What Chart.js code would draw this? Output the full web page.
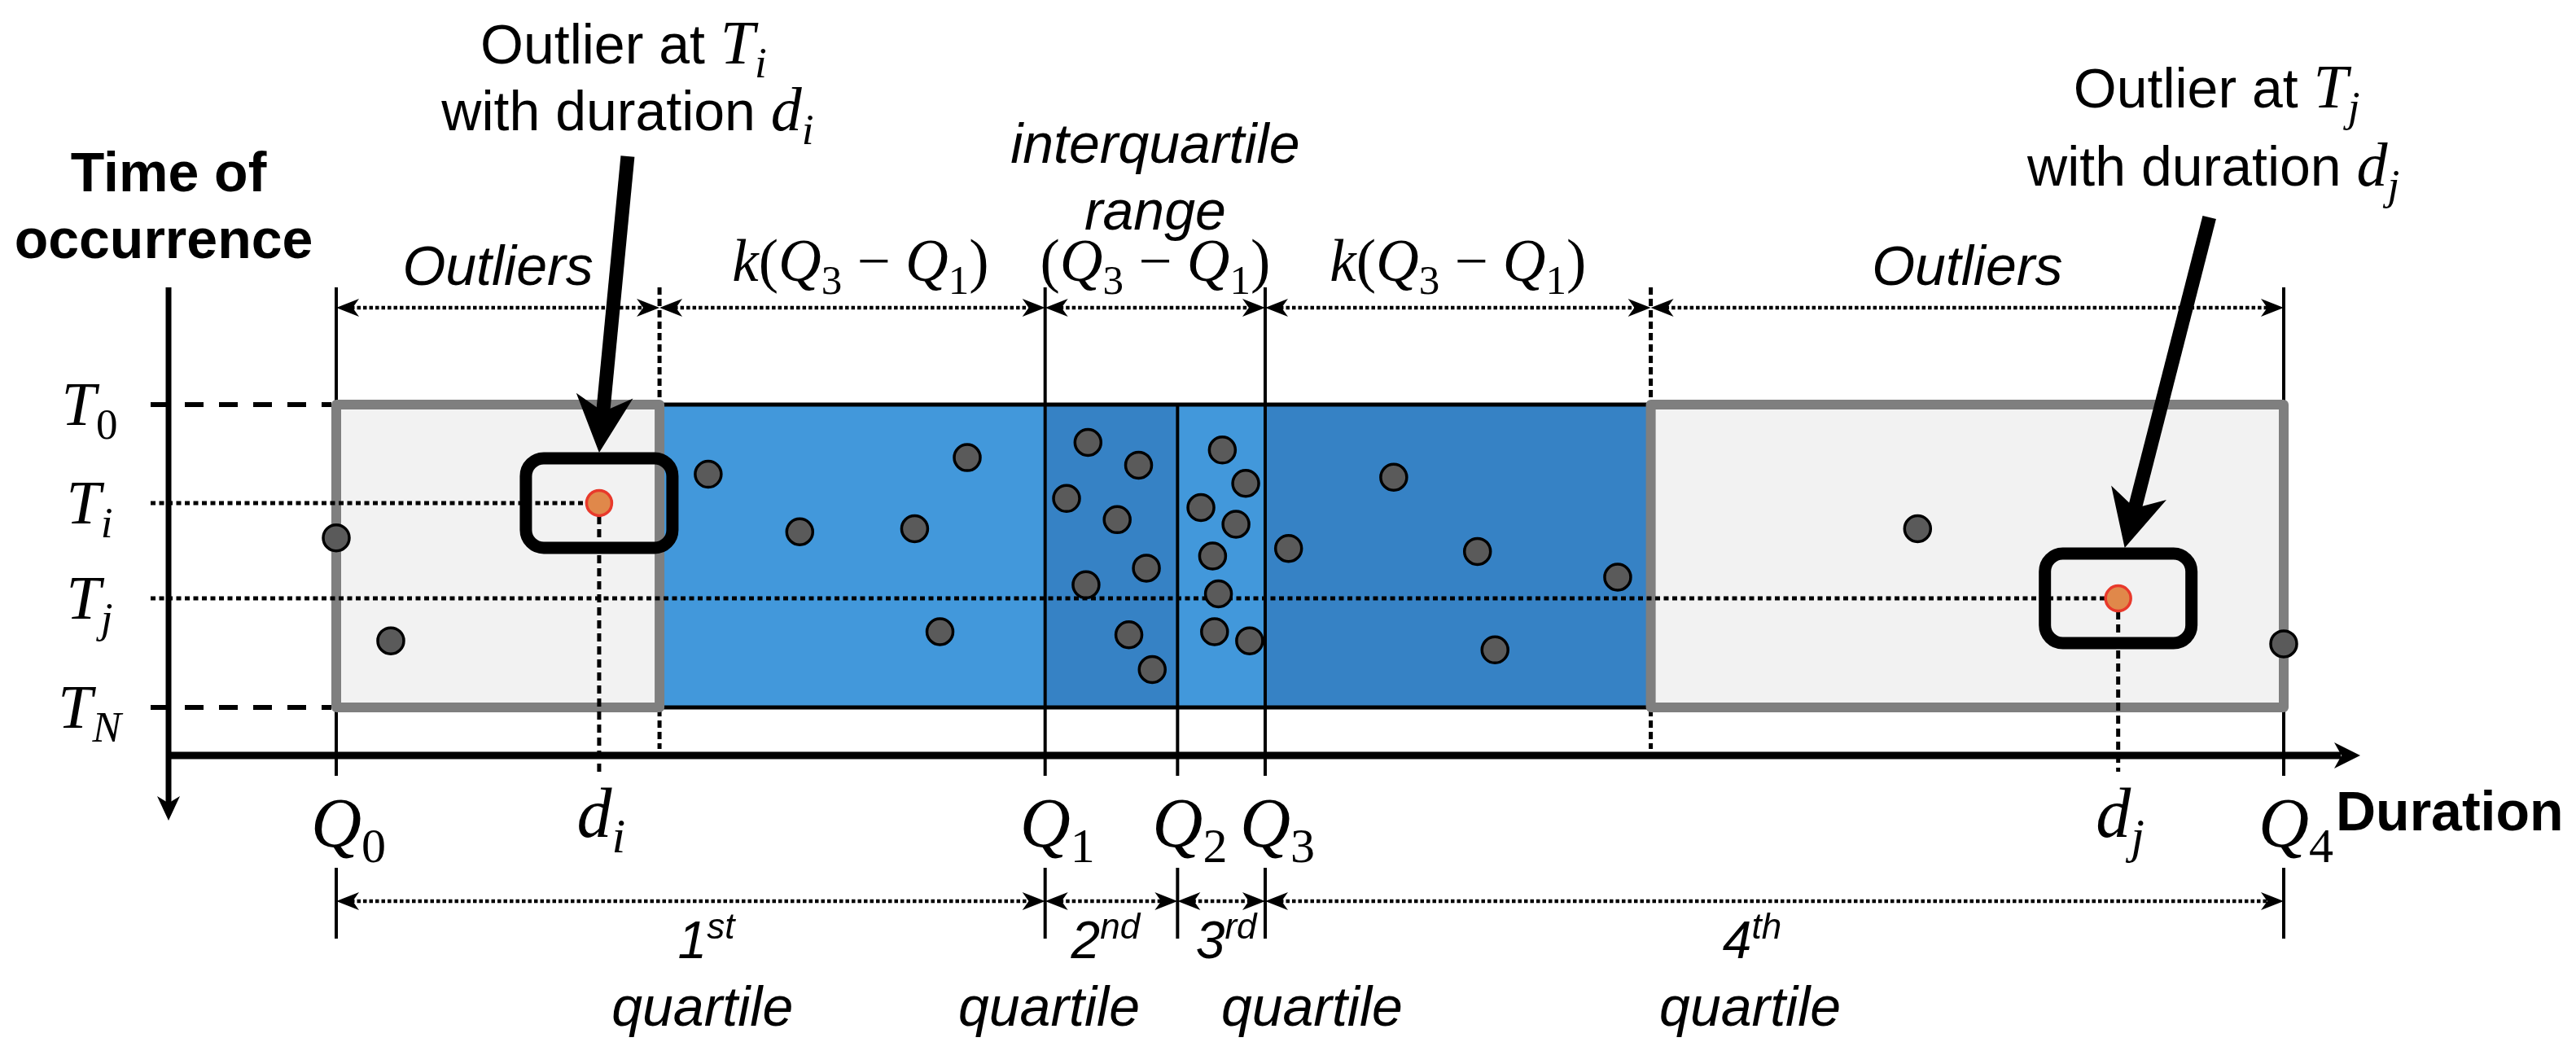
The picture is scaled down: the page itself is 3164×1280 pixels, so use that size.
<!DOCTYPE html>
<html>
<head>
<meta charset="utf-8">
<title>Outliers by quartile of duration</title>
<script src="https://cdn.jsdelivr.net/npm/chart.js@4.4.1/dist/chart.umd.min.js"></script>
<style>
    html, body { margin: 0; padding: 0; background: #ffffff; }
    canvas { display: block; }
</style>
</head>
<body>
<canvas id="chart" width="3164" height="1280"></canvas>
<script>
// duration where each quartile boundary falls (Q0 ... Q4)
const quartiles = [0, 36.4, 43.2, 47.7, 100];
const quartileSubs = ["0", "1", "2", "3", "4"];
// lower / upper fence: Q1 - k(Q3-Q1) and Q3 + k(Q3-Q1)
const fences = [16.6, 67.5];

// time of occurrence rows T0, Ti, Tj, TN
const timeTicks = [0, 32.5, 64, 100];
const timeSubs = ["0", "i", "j", "N"];

// ordinary events (duration, time of occurrence)
const eventDurations = [0, 2.8, 19.1, 23.8, 29.7, 32.4, 31.0, 38.6, 41.2, 37.5,
    40.1, 41.6, 38.5, 40.7, 41.9, 45.5, 46.7, 44.4, 46.2, 45.0,
    45.3, 45.1, 46.9, 48.9, 54.3, 58.6, 65.8, 59.5, 81.2, 100];
const eventTimes = [44, 78, 23, 42, 41, 17.5, 75, 12.5, 20, 31,
    38, 54, 59.5, 76, 87.5, 15, 26, 34, 39.5, 50,
    62.5, 75, 78, 47.5, 24, 48.5, 57, 81, 41, 79];

// the two outliers that are pointed out (i and j)
const outlierDurations = [13.5, 91.5];
const outlierTimes = [32.5, 64];
const outlierSubs = ["i", "j"];

const ordinals = [["1", "st"], ["2", "nd"], ["3", "rd"], ["4", "th"]];

// ---- look ----
const SANS = '"Liberation Sans", Arial, sans-serif';
const SERIF = '"Liberation Serif", "Times New Roman", serif';
const LIGHT_BLUE = "#4298db";
const DARK_BLUE = "#3682c5";
const BOX_FILL = "#f2f2f2";
const BOX_EDGE = "#7f7f7f";
const ordinalX = [19.0, 39.5, 45.7, 72.7];
const quartileWordX = [18.8, 36.6, 50.1, 72.6];

function line(ctx, x1, y1, x2, y2, width, dash, color) {
    ctx.save();
    ctx.beginPath();
    ctx.strokeStyle = color || "#000";
    ctx.lineWidth = width;
    ctx.setLineDash(dash || []);
    ctx.moveTo(x1, y1);
    ctx.lineTo(x2, y2);
    ctx.stroke();
    ctx.restore();
}

// stealth arrow head, ang = direction it points to
function head(ctx, tx, ty, ang, len, half) {
    const c = Math.cos(ang), s = Math.sin(ang);
    const pt = (a, b) => [tx - a * c - b * s, ty - a * s + b * c];
    const p1 = pt(len, half), p2 = pt(len * 0.72, 0), p3 = pt(len, -half);
    ctx.beginPath();
    ctx.moveTo(tx, ty);
    ctx.lineTo(p1[0], p1[1]);
    ctx.lineTo(p2[0], p2[1]);
    ctx.lineTo(p3[0], p3[1]);
    ctx.closePath();
    ctx.fillStyle = "#000";
    ctx.fill();
}

function dimension(ctx, x1, x2, y) {
    line(ctx, x1 + 18, y, x2 - 18, y, 4.5, [4.5, 3]);
    head(ctx, x1, y, Math.PI, 28, 11);
    head(ctx, x2, y, 0, 28, 11);
}

function bigArrow(ctx, x1, y1, x2, y2) {
    const ang = Math.atan2(y2 - y1, x2 - x1);
    const ex = x2 - Math.cos(ang) * 40, ey = y2 - Math.sin(ang) * 40;
    line(ctx, x1, y1, ex, ey, 17);
    head(ctx, x2, y2, ang, 70, 35);
}

// text made of runs with their own font and baseline shift
function drawRuns(ctx, runs, x, y, align) {
    let w = 0;
    runs.forEach(function (r) {
        ctx.font = r.f;
        r.w = ctx.measureText(r.t).width;
        w += r.w;
    });
    let cx = x;
    if (align === "center") cx = x - w / 2;
    else if (align === "right") cx = x - w;
    else if (align === "first") cx = x - runs[0].w / 2;
    ctx.textAlign = "left";
    ctx.textBaseline = "alphabetic";
    ctx.fillStyle = "#000";
    runs.forEach(function (r) {
        ctx.font = r.f;
        ctx.fillText(r.t, cx, y + (r.dy || 0));
        cx += r.w;
    });
}

function sym(base, sub, size) {
    const subFont = (isNaN(sub) ? "italic " : "") + Math.round(size * 0.7) + "px " + SERIF;
    return [
        { t: base, f: "italic " + size + "px " + SERIF },
        { t: sub, f: subFont, dy: size * 0.22 }
    ];
}

function iqrExpr(size, withK) {
    const up = size + "px " + SERIF;
    let r = [];
    if (withK) r.push({ t: "k", f: "italic " + size + "px " + SERIF });
    r.push({ t: "(", f: up });
    r = r.concat(sym("Q", "3", size));
    r.push({ t: " \u2212 ", f: up });
    r = r.concat(sym("Q", "1", size));
    r.push({ t: ")", f: up });
    return r;
}

const diagram = {
    id: "diagram",
    beforeDatasetsDraw(chart) {
        const { ctx, scales: { x, y } } = chart;
        const px = v => x.getPixelForValue(v);
        const py = v => y.getPixelForValue(v);
        const top = py(timeTicks[0]), bottom = py(timeTicks[3]);
        const axisX = px(quartiles[0]) - 206;
        const axisY = bottom + 59;
        const guideTop = top - 144;

        // fence guides (dotted)
        fences.forEach(function (f) {
            line(ctx, px(f), guideTop, px(f), axisY - 8, 5, [9, 5]);
        });

        // blue interquartile / whisker bands
        const edges = [fences[0], quartiles[1], quartiles[2], quartiles[3], fences[1]];
        for (let i = 0; i < 4; i++) {
            ctx.fillStyle = i % 2 === 0 ? LIGHT_BLUE : DARK_BLUE;
            ctx.fillRect(px(edges[i]), top, px(edges[i + 1]) - px(edges[i]), bottom - top);
        }

        // quartile lines
        quartiles.forEach(function (q, i) {
            const from = i === 2 ? top : guideTop;
            line(ctx, px(q), from, px(q), axisY + 25, 4);
        });
        line(ctx, px(fences[0]), top, px(fences[1]), top, 5);
        line(ctx, px(fences[0]), bottom, px(fences[1]), bottom, 5);

        // grey outlier zones
        ctx.save();
        ctx.lineWidth = 12;
        ctx.lineJoin = "round";
        ctx.strokeStyle = BOX_EDGE;
        ctx.fillStyle = BOX_FILL;
        [[quartiles[0], fences[0]], [fences[1], quartiles[4]]].forEach(function (z) {
            ctx.fillRect(px(z[0]), top, px(z[1]) - px(z[0]), bottom - top);
            ctx.strokeRect(px(z[0]), top, px(z[1]) - px(z[0]), bottom - top);
        });
        ctx.restore();

        // time rows
        line(ctx, axisX - 22, top, px(quartiles[0]) - 6, top, 6, [23, 19]);
        line(ctx, axisX - 22, bottom, px(quartiles[0]) - 6, bottom, 6, [23, 19]);
        outlierDurations.forEach(function (d, i) {
            const ox = px(d), oy = py(outlierTimes[i]);
            line(ctx, axisX - 22, oy, ox, oy, 5, [6, 4.5]);
            line(ctx, ox, oy, ox, axisY + 20, 5, [10, 6]);
        });

        // axes
        line(ctx, axisX, guideTop, axisX, axisY + 60, 7);
        head(ctx, axisX, axisY + 80, Math.PI / 2, 30, 14);
        line(ctx, axisX - 3, axisY, px(quartiles[4]) + 70, axisY, 9);
        head(ctx, px(quartiles[4]) + 94, axisY, 0, 32, 16);
    },
    afterDatasetsDraw(chart) {
        const { ctx, scales: { x, y } } = chart;
        const px = v => x.getPixelForValue(v);
        const py = v => y.getPixelForValue(v);
        const top = py(timeTicks[0]), bottom = py(timeTicks[3]);
        const axisX = px(quartiles[0]) - 206;
        const axisY = bottom + 59;
        const rowY = top - 119;
        const sans = "68px " + SANS;
        const sansIt = "italic 68px " + SANS;

        // callout boxes + arrows
        const tails = [[35, 192], [112, 267]];
        const textX = [[30, 35], [121, 117]];
        const textY = [[78, 160], [132, 228]];
        outlierDurations.forEach(function (d, i) {
            const ox = px(d), oy = py(outlierTimes[i]);
            ctx.save();
            ctx.lineWidth = 15;
            ctx.strokeStyle = "#000";
            ctx.beginPath();
            ctx.roundRect(ox - 90, oy - 55, 180, 110, 22);
            ctx.stroke();
            ctx.restore();
            bigArrow(ctx, ox + tails[i][0], tails[i][1], ox + (i ? 8 : 0), oy - 62);

            drawRuns(ctx, [{ t: "Outlier at ", f: sans }].concat(sym("T", outlierSubs[i], 76)),
                ox + textX[i][0], textY[i][0], "center");
            drawRuns(ctx, [{ t: "with duration ", f: sans }].concat(sym("d", outlierSubs[i], 76)),
                ox + textX[i][1], textY[i][1], "center");
            drawRuns(ctx, sym("d", outlierSubs[i], 86), ox - 6, axisY + 100, "first");
        });

        // top dimension row
        const marks = [quartiles[0], fences[0], quartiles[1], quartiles[3], fences[1], quartiles[4]];
        for (let i = 0; i < 5; i++) dimension(ctx, px(marks[i]), px(marks[i + 1]), rowY);
        const mid = i => (px(marks[i]) + px(marks[i + 1])) / 2;
        drawRuns(ctx, [{ t: "Outliers", f: sansIt }], mid(0), top - 147, "center");
        drawRuns(ctx, iqrExpr(73, true), mid(1) + 10, top - 152, "center");
        drawRuns(ctx, iqrExpr(73, false), mid(2), top - 152, "center");
        drawRuns(ctx, iqrExpr(73, true), mid(3), top - 152, "center");
        drawRuns(ctx, [{ t: "Outliers", f: sansIt }], mid(4), top - 147, "center");
        drawRuns(ctx, [{ t: "interquartile", f: sansIt }], mid(2), top - 297, "center");
        drawRuns(ctx, [{ t: "range", f: sansIt }], mid(2), top - 215, "center");

        // axis titles
        drawRuns(ctx, [{ t: "Time of", f: "bold 68px " + SANS }], axisX, top - 262, "center");
        drawRuns(ctx, [{ t: "occurrence", f: "bold 68px " + SANS }], axisX - 6, top - 180, "center");
        drawRuns(ctx, [{ t: "Duration", f: "bold 68px " + SANS }], px(quartiles[4]) + 64, axisY + 92, "left");

        // time labels
        timeTicks.forEach(function (t, i) {
            drawRuns(ctx, sym("T", timeSubs[i], 76), axisX - 97, py(t) + 25, "center");
        });

        // quartile labels and bottom row
        quartiles.forEach(function (q, i) {
            drawRuns(ctx, sym("Q", quartileSubs[i], 86), px(q), axisY + 112, "first");
            line(ctx, px(q), axisY + 138, px(q), axisY + 225, 4);
        });
        for (let i = 0; i < 4; i++) {
            dimension(ctx, px(quartiles[i]), px(quartiles[i + 1]), axisY + 179);
            drawRuns(ctx, [
                { t: ordinals[i][0], f: "italic 64px " + SANS },
                { t: ordinals[i][1], f: "italic 44px " + SANS, dy: -24 }
            ], px(ordinalX[i]), axisY + 249, "center");
            drawRuns(ctx, [{ t: "quartile", f: sansIt }], px(quartileWordX[i]), axisY + 332, "center");
        }
    }
};

const ctx = document.getElementById("chart").getContext("2d");
new Chart(ctx, {
    type: "scatter",
    data: {
        datasets: [
            {
                label: "events",
                data: eventDurations.map((d, i) => ({ x: d, y: eventTimes[i] })),
                pointRadius: 16,
                pointBorderWidth: 3.5,
                pointBackgroundColor: "#5a5a5a",
                pointBorderColor: "#000000",
                clip: false
            },
            {
                label: "outliers",
                data: outlierDurations.map((d, i) => ({ x: d, y: outlierTimes[i] })),
                pointRadius: 15.5,
                pointBorderWidth: 3.5,
                pointBackgroundColor: "#e0884a",
                pointBorderColor: "#e8392b",
                clip: false
            }
        ]
    },
    options: {
        responsive: false,
        animation: false,
        devicePixelRatio: 1,
        events: [],
        layout: { padding: { left: 413, right: 359, top: 497, bottom: 411 } },
        scales: {
            x: { type: "linear", min: 0, max: 100, display: false },
            y: { type: "linear", min: 0, max: 100, reverse: true, display: false }
        },
        plugins: {
            legend: { display: false },
            tooltip: { enabled: false }
        }
    },
    plugins: [diagram]
});
</script>
</body>
</html>
